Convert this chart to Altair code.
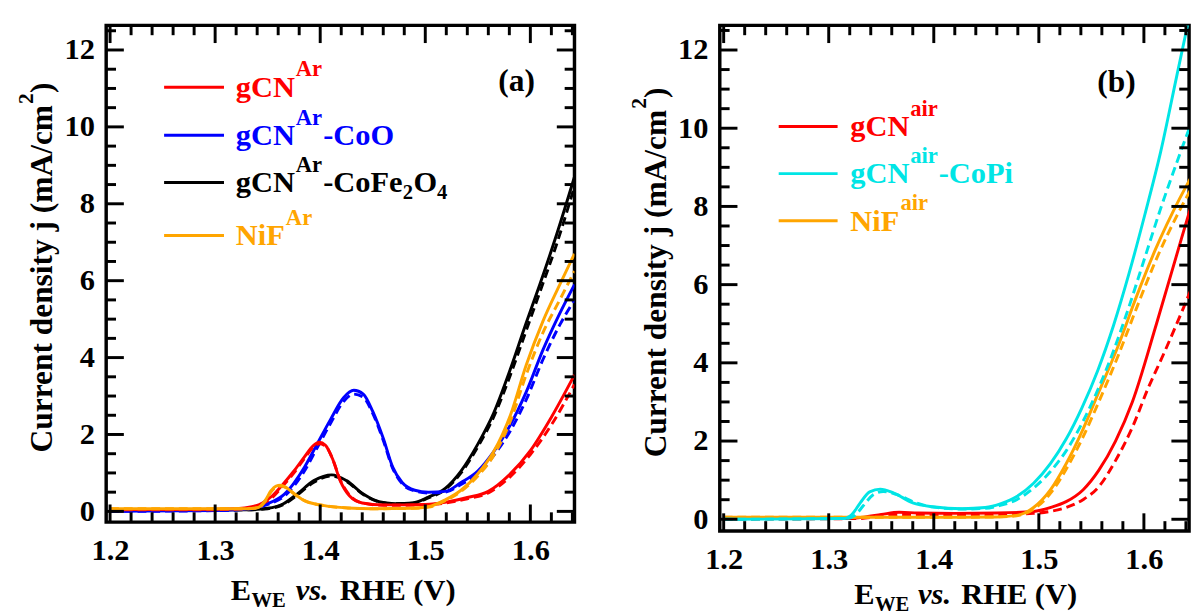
import altair as alt
import pandas as pd

FONT = "Liberation Serif, Tinos, Times New Roman, Nimbus Roman, DejaVu Serif, serif"
RED, BLUE, BLACK, ORANGE, CYAN = "#ff0000", "#0000ff", "#000000", "#ffa500", "#00e5e5"

# ---------------- Panel (a) data ----------------
a_red_x = [1.20, 1.28, 1.32, 1.335, 1.345, 1.355, 1.365, 1.375, 1.385, 1.393, 1.399, 1.405, 1.412,
           1.419, 1.428, 1.44, 1.46, 1.48, 1.50, 1.52, 1.54, 1.56, 1.58, 1.60, 1.62, 1.642]
a_red_solid_y = [0.05, 0.05, 0.07, 0.12, 0.22, 0.42, 0.72, 1.05, 1.42, 1.70, 1.80, 1.72, 1.35,
                 0.80, 0.40, 0.22, 0.17, 0.17, 0.18, 0.24, 0.36, 0.52, 0.95, 1.58, 2.45, 3.55]
a_red_dash_y = [0.04, 0.04, 0.06, 0.10, 0.20, 0.38, 0.68, 1.00, 1.38, 1.66, 1.76, 1.70, 1.35,
                0.82, 0.42, 0.22, 0.16, 0.16, 0.17, 0.22, 0.33, 0.48, 0.88, 1.48, 2.25, 3.30]

a_blue_x = [1.20, 1.30, 1.335, 1.35, 1.366, 1.385, 1.397, 1.41, 1.422, 1.432, 1.441, 1.45, 1.46,
            1.469, 1.478, 1.49, 1.503, 1.519, 1.534, 1.55, 1.565, 1.581, 1.596, 1.612, 1.628, 1.642]
a_blue_solid_y = [0.0, 0.02, 0.08, 0.2, 0.45, 1.15, 1.75, 2.4, 2.95, 3.15, 3.05, 2.6, 1.9,
                  1.15, 0.75, 0.55, 0.5, 0.52, 0.75, 1.05, 1.55, 2.25, 3.1, 4.2, 5.15, 5.9]
a_blue_dash_y = [0.0, 0.02, 0.07, 0.18, 0.4, 1.05, 1.65, 2.3, 2.85, 3.05, 2.97, 2.55, 1.85,
                 1.12, 0.72, 0.53, 0.48, 0.5, 0.7, 0.98, 1.45, 2.1, 2.9, 3.95, 4.85, 5.5]

a_black_x = [1.20, 1.33, 1.35, 1.365, 1.378, 1.394, 1.411, 1.425, 1.441, 1.456, 1.472, 1.488,
             1.503, 1.519, 1.534, 1.55, 1.565, 1.581, 1.596, 1.609, 1.625, 1.642]
a_black_solid_y = [0.03, 0.04, 0.08, 0.2, 0.45, 0.8, 0.95, 0.8, 0.45, 0.25, 0.2, 0.22,
                   0.37, 0.6, 1.05, 1.75, 2.55, 3.7, 4.9, 5.9, 7.2, 8.7]
a_black_dash_y = [0.03, 0.04, 0.07, 0.18, 0.42, 0.76, 0.92, 0.78, 0.44, 0.25, 0.2, 0.21,
                  0.35, 0.57, 1.0, 1.68, 2.45, 3.55, 4.7, 5.7, 6.95, 8.45]

a_orange_x = [1.20, 1.33, 1.341, 1.348, 1.353, 1.358, 1.362, 1.367, 1.372, 1.385, 1.404, 1.426,
              1.45, 1.488, 1.503, 1.519, 1.534, 1.55, 1.565, 1.581, 1.596, 1.612, 1.628, 1.642]
a_orange_solid_y = [0.07, 0.07, 0.1, 0.3, 0.53, 0.66, 0.68, 0.63, 0.53, 0.28, 0.15, 0.09,
                    0.07, 0.08, 0.12, 0.3, 0.55, 0.98, 1.55, 2.5, 3.8, 4.95, 5.9, 6.7]
a_orange_dash_y = [0.07, 0.07, 0.09, 0.27, 0.5, 0.63, 0.66, 0.62, 0.52, 0.28, 0.15, 0.09,
                   0.07, 0.08, 0.11, 0.28, 0.52, 0.92, 1.45, 2.35, 3.55, 4.65, 5.5, 6.25]

# ---------------- Panel (b) data ----------------
b_cyan_solid_x = [1.20, 1.315, 1.322, 1.33, 1.339, 1.349, 1.362, 1.38, 1.399, 1.427, 1.449, 1.464,
                  1.479, 1.495, 1.511, 1.526, 1.541, 1.556, 1.571, 1.586, 1.601, 1.616, 1.631, 1.646]
b_cyan_solid_y = [0.0, 0.02, 0.12, 0.42, 0.7, 0.77, 0.67, 0.42, 0.32, 0.27, 0.3, 0.4,
                  0.58, 0.92, 1.42, 2.05, 2.85, 3.8, 4.95, 6.3, 7.8, 9.4, 11.3, 13.2]
b_cyan_dash_x = [1.20, 1.318, 1.325, 1.333, 1.342, 1.352, 1.365, 1.383, 1.40, 1.427, 1.449, 1.464,
                 1.479, 1.495, 1.511, 1.526, 1.541, 1.556, 1.571, 1.586, 1.601, 1.616, 1.631, 1.646]
b_cyan_dash_y = [0.0, 0.02, 0.1, 0.35, 0.62, 0.71, 0.63, 0.42, 0.31, 0.26, 0.28, 0.36,
                 0.5, 0.8, 1.22, 1.75, 2.45, 3.3, 4.3, 5.45, 6.7, 7.95, 9.1, 10.2]

b_orange_x = [1.20, 1.33, 1.40, 1.46, 1.479, 1.495, 1.511, 1.526, 1.542, 1.557, 1.575, 1.593,
              1.611, 1.634, 1.646]
b_orange_solid_y = [0.05, 0.05, 0.05, 0.06, 0.1, 0.3, 0.75, 1.42, 2.3, 3.25, 4.4, 5.7, 6.9, 8.2, 8.8]
b_orange_dash_y = [0.05, 0.05, 0.05, 0.06, 0.09, 0.26, 0.66, 1.28, 2.1, 3.0, 4.15, 5.4, 6.6, 7.9, 8.5]

b_red_solid_x = [1.20, 1.32, 1.335, 1.35, 1.367, 1.385, 1.42, 1.46, 1.495, 1.511, 1.526, 1.542,
                 1.557, 1.573, 1.589, 1.612, 1.636, 1.646]
b_red_solid_y = [0.02, 0.02, 0.06, 0.12, 0.18, 0.16, 0.15, 0.16, 0.2, 0.3, 0.45, 0.75,
                 1.25, 2.0, 3.0, 5.0, 7.2, 8.1]
b_red_dash_x = [1.20, 1.33, 1.35, 1.367, 1.40, 1.46, 1.495, 1.511, 1.526, 1.542, 1.557, 1.573,
                1.589, 1.604, 1.62, 1.636, 1.646]
b_red_dash_y = [0.0, 0.02, 0.08, 0.12, 0.12, 0.12, 0.15, 0.2, 0.3, 0.5, 0.83, 1.5,
                2.35, 3.35, 4.3, 5.3, 5.95]

# ---------------- axes / ticks ----------------
x_major = [1.2, 1.3, 1.4, 1.5, 1.6]
x_minor = [1.22, 1.24, 1.26, 1.28, 1.32, 1.34, 1.36, 1.38, 1.42, 1.44, 1.46, 1.48,
           1.52, 1.54, 1.56, 1.58, 1.62, 1.64]
y_major = [0, 2, 4, 6, 8, 10, 12]
y_minor = [0.5, 1, 1.5, 2.5, 3, 3.5, 4.5, 5, 5.5, 6.5, 7, 7.5, 8.5, 9, 9.5, 10.5, 11, 11.5, 12.5]

dummy = pd.DataFrame({"k": [0]})

XAX = alt.Axis(values=x_major, format=".1f", ticks=False, domain=False, grid=False,
               labelFont=FONT, labelFontSize=31, labelFontWeight="bold", labelColor="black",
               labelPadding=14, title="")
YAX = alt.Axis(values=y_major, ticks=False, domain=False, grid=False,
               labelFont=FONT, labelFontSize=31, labelFontWeight="bold", labelColor="black",
               labelPadding=12, title="")


def line(x, y, color, xs, ys, dashed=False):
    kw = dict(color=color, strokeWidth=3, interpolate="monotone", clip=True)
    if dashed:
        kw["strokeDash"] = [9, 5]
    return alt.Chart(pd.DataFrame({"x": x, "y": y})).mark_line(**kw).encode(
        x=alt.X("x:Q", scale=xs, axis=XAX),
        y=alt.Y("y:Q", scale=ys, axis=YAX),
    )


def ticks(xs, ys, W, H):
    out = []
    for vals, L in ((x_major, 18), (x_minor, 10)):
        base = alt.Chart(pd.DataFrame({"v": vals})).mark_rule(color="black", strokeWidth=3)
        out.append(base.encode(x=alt.X("v:Q", scale=xs, axis=XAX), y=alt.value(H), y2=alt.value(H - L)))
        out.append(base.encode(x=alt.X("v:Q", scale=xs, axis=XAX), y=alt.value(0), y2=alt.value(L)))
    for vals, L in ((y_major, 18), (y_minor, 10)):
        base = alt.Chart(pd.DataFrame({"v": vals})).mark_rule(color="black", strokeWidth=3)
        out.append(base.encode(y=alt.Y("v:Q", scale=ys, axis=YAX), x=alt.value(0), x2=alt.value(L)))
        out.append(base.encode(y=alt.Y("v:Q", scale=ys, axis=YAX), x=alt.value(W), x2=alt.value(W - L)))
    return out


def txt(s, x, y, size, color="black", italic=False, align="left", angle=0):
    kw = dict(font=FONT, fontSize=size, fontWeight="bold", color=color, align=align,
              baseline="alphabetic")
    if italic:
        kw["fontStyle"] = "italic"
    if angle:
        kw["angle"] = angle
    return alt.Chart(dummy).mark_text(**kw).encode(x=alt.value(x), y=alt.value(y), text=alt.value(s))


def leg_rule(x1, x2, y, color):
    return alt.Chart(dummy).mark_rule(color=color, strokeWidth=3).encode(
        x=alt.value(x1), x2=alt.value(x2), y=alt.value(y))


def xtitle(x0, xvs, xrhe, base):
    return [txt("E", x0, base, 31), txt("WE", x0 + 21, base + 7, 21),
            txt("vs.", xvs, base, 31, italic=True), txt("RHE (V)", xrhe, base, 31)]


def ytitle(xb, y0):
    # rotated title: "Current density j (mA/cm" + superscript 2 + ")"
    y1 = y0 - 355
    return [txt("Current density j (mA/cm", xb, y0, 32, angle=270),
            txt("2", xb - 20, y1, 22, angle=270),
            txt(")", xb, y1 - 11, 32, angle=270)]


# ---------------- Panel (a) ----------------
WA, HA = 477, 506
xs_a = alt.Scale(domain=[1.1963, 1.642], nice=False, zero=False)
ys_a = alt.Scale(domain=[-0.28, 12.64], nice=False, zero=False)

a_layers = [
    line(a_black_x, a_black_dash_y, BLACK, xs_a, ys_a, dashed=True),
    line(a_black_x, a_black_solid_y, BLACK, xs_a, ys_a),
    line(a_blue_x, a_blue_dash_y, BLUE, xs_a, ys_a, dashed=True),
    line(a_blue_x, a_blue_solid_y, BLUE, xs_a, ys_a),
    line(a_red_x, a_red_dash_y, RED, xs_a, ys_a, dashed=True),
    line(a_red_x, a_red_solid_y, RED, xs_a, ys_a),
    line(a_orange_x, a_orange_dash_y, ORANGE, xs_a, ys_a, dashed=True),
    line(a_orange_x, a_orange_solid_y, ORANGE, xs_a, ys_a),
]
a_layers += ticks(xs_a, ys_a, WA, HA)
a_leg_y = [63, 112, 160, 214]
a_layers += [
    leg_rule(59, 120, a_leg_y[0], RED), txt("gCN", 132, a_leg_y[0] + 10, 31, RED),
    txt("Ar", 193, a_leg_y[0] - 11, 23, RED),
    leg_rule(59, 120, a_leg_y[1], BLUE), txt("gCN", 132, a_leg_y[1] + 10, 31, BLUE),
    txt("Ar", 193, a_leg_y[1] - 11, 23, BLUE), txt("-CoO", 221, a_leg_y[1] + 10, 31, BLUE),
    leg_rule(59, 120, a_leg_y[2], BLACK), txt("gCN", 132, a_leg_y[2] + 10, 31),
    txt("Ar", 193, a_leg_y[2] - 11, 23), txt("-CoFe", 221, a_leg_y[2] + 10, 31),
    txt("2", 302, a_leg_y[2] + 17, 21), txt("O", 313, a_leg_y[2] + 10, 31),
    txt("4", 337, a_leg_y[2] + 17, 21),
    leg_rule(59, 120, a_leg_y[3], ORANGE), txt("NiF", 132, a_leg_y[3] + 10, 31, ORANGE),
    txt("Ar", 183, a_leg_y[3] - 11, 23, ORANGE),
    txt("(a)", 418, 67, 32, align="center"),
]
a_layers += xtitle(127, 193, 238, 585)
a_layers += ytitle(-55, 435)
panel_a = alt.layer(*a_layers).properties(width=WA, height=HA)

# ---------------- Panel (b) ----------------
WB, HB = 478, 515
xs_b = alt.Scale(domain=[1.1963, 1.643], nice=False, zero=False)
ys_b = alt.Scale(domain=[-0.30, 12.63], nice=False, zero=False)

b_layers = [
    line(b_red_dash_x, b_red_dash_y, RED, xs_b, ys_b, dashed=True),
    line(b_red_solid_x, b_red_solid_y, RED, xs_b, ys_b),
    line(b_orange_x, b_orange_dash_y, ORANGE, xs_b, ys_b, dashed=True),
    line(b_orange_x, b_orange_solid_y, ORANGE, xs_b, ys_b),
    line(b_cyan_dash_x, b_cyan_dash_y, CYAN, xs_b, ys_b, dashed=True),
    line(b_cyan_solid_x, b_cyan_solid_y, CYAN, xs_b, ys_b),
]
b_layers += ticks(xs_b, ys_b, WB, HB)
b_leg_y = [103, 151, 199]
b_layers += [
    leg_rule(60, 120, b_leg_y[0], RED), txt("gCN", 133, b_leg_y[0] + 10, 31, RED),
    txt("air", 194, b_leg_y[0] - 11, 23, RED),
    leg_rule(60, 120, b_leg_y[1], CYAN), txt("gCN", 133, b_leg_y[1] + 10, 31, CYAN),
    txt("air", 194, b_leg_y[1] - 11, 23, CYAN), txt("-CoPi", 223, b_leg_y[1] + 10, 31, CYAN),
    leg_rule(60, 120, b_leg_y[2], ORANGE), txt("NiF", 133, b_leg_y[2] + 10, 31, ORANGE),
    txt("air", 184, b_leg_y[2] - 11, 23, ORANGE),
    txt("(b)", 404, 68, 32, align="center"),
]
b_layers += xtitle(137, 202, 246, 589)
b_layers += ytitle(-55, 440)
panel_b = alt.layer(*b_layers).properties(width=WB, height=HB)

chart = alt.hconcat(panel_a, panel_b, spacing=148, bounds="flush").properties(
    padding={"left": 5, "top": 8, "right": 0, "bottom": 0}
).configure_view(stroke="black", strokeWidth=3.5)

chart.save("out.html", embed_options={"renderer": "svg", "actions": False})
